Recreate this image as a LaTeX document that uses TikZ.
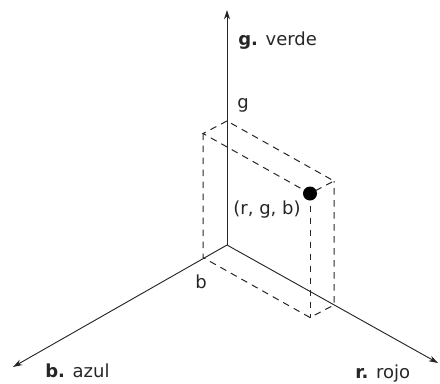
\documentclass[tikz,border=0pt]{standalone}
\usepackage{fontspec}
\setmainfont{DejaVu Sans}
\usetikzlibrary{arrows.meta, calc}

\tikzset{
  achse/.style={-{Stealth[length=7pt, width=4.5pt]}, line width=0.7pt, black!85},
  kante/.style={dash pattern=on 5pt off 4pt, line width=0.75pt, black!85},
  txt/.style={font=\fontsize{13.5}{16}\selectfont, text=black!85, inner sep=0pt}
}

\begin{document}
\begin{tikzpicture}[x=0.75pt, y=-0.75pt]
      \useasboundingbox (0,0) rectangle (440,383);

      % Punkte
      \coordinate (O)    at (227,245);
      \coordinate (gend) at (227,10);
      \coordinate (bend) at (13,367);
      \coordinate (rend) at (438,363);
      \coordinate (g)    at (227,121);
      \coordinate (b)    at (203,257.5);
      \coordinate (r)    at (334,305);
      \coordinate (gb)   at ($(g)+(b)-(O)$);
      \coordinate (gr)   at ($(g)+(r)-(O)$);
      \coordinate (rb)   at ($(r)+(b)-(O)$);
      \coordinate (rgb)  at ($(gr)+(b)-(O)$);

      % Achsen
      \draw[achse] (O) -- (gend);
      \draw[achse] (O) -- (bend);
      \draw[achse] (O) -- (rend);

      % Quader
      \draw[kante] (g) -- (gb) -- (rgb) -- (gr) -- cycle;
      \draw[kante] (gb) -- (b) -- (rb) -- (r) -- (gr);
      \draw[kante] (rgb) -- (rb);
      \fill[black] (rgb) circle (7);

      % Beschriftung
      \node[txt, anchor=base west] (lg)   at (238,45)  {\textbf{g.} verde};
      \node[txt, anchor=base west] (lb)   at (45,377)  {\textbf{b.} azul};
      \node[txt, anchor=base west] (lr)   at (355,378) {\textbf{r.} rojo};
      \node[txt, anchor=base west] (ng)   at (237,108) {g};
      \node[txt, anchor=base]      (nb)   at (201,288) {b};
      \node[txt, anchor=base]      (nrgb) at (267,214) {(r, g, b)};
    \end{tikzpicture}
\end{document}
